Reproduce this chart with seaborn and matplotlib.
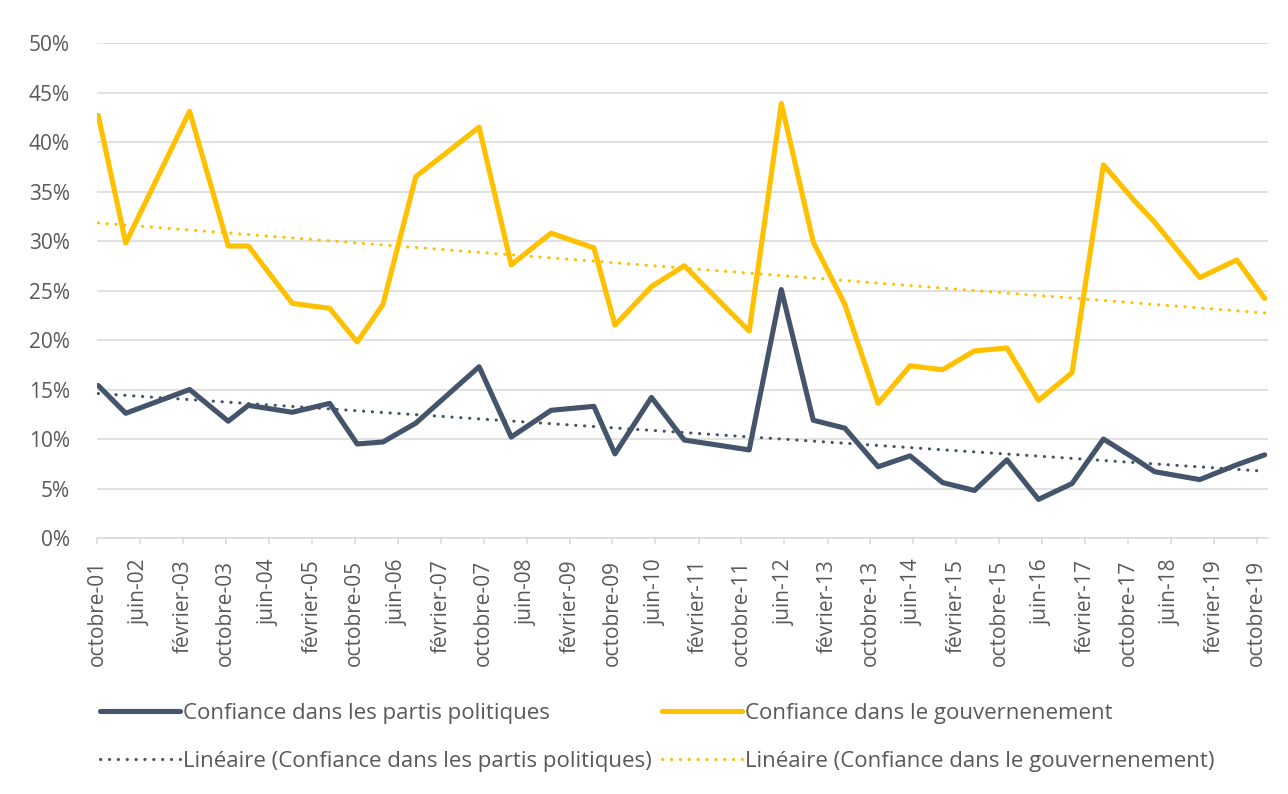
import pandas as pd
import numpy as np
import matplotlib
matplotlib.use('Agg')
import matplotlib.pyplot as plt
import matplotlib.dates as mdates
import seaborn as sns

## Données (en %)
dates = ['2001-10-08', '2002-03-13', '2003-03-10', '2003-10-15', '2004-02-06',
         '2004-10-12', '2005-05-12', '2005-10-15', '2006-03-10', '2006-09-12',
         '2007-09-06', '2008-03-06', '2008-10-18', '2009-06-18', '2009-10-15',
         '2010-05-10', '2010-11-12', '2011-11-15', '2012-05-15', '2012-11-12',
         '2013-05-10', '2013-11-15', '2014-05-15', '2014-11-15', '2015-05-15',
         '2015-11-15', '2016-05-12', '2016-11-18', '2017-05-15', '2017-11-10',
         '2018-03-01', '2018-11-12', '2019-06-10', '2019-11-15']
partis = [15.4, 12.6, 15.0, 11.8, 13.4, 12.7, 13.6, 9.5, 9.7, 11.6,
          17.3, 10.2, 12.9, 13.3, 8.5, 14.2, 9.9, 8.9, 25.1, 11.9,
          11.1, 7.2, 8.3, 5.6, 4.8, 7.9, 3.9, 5.5, 10.0, 8.0,
          6.7, 5.9, 7.4, 8.4]
gouv = [42.7, 29.8, 43.1, 29.5, 29.5, 23.7, 23.2, 19.8, 23.6, 36.5,
        41.5, 27.6, 30.8, 29.3, 21.5, 25.4, 27.5, 20.9, 43.9, 29.9,
        23.6, 13.6, 17.4, 17.0, 18.9, 19.2, 13.9, 16.7, 37.7, 34.0,
        31.9, 26.3, 28.1, 24.2]
lab_partis = 'Confiance dans les partis politiques'
lab_gouv = 'Confiance dans le gouvernenement'
mois_fr = ['janvier', 'février', 'mars', 'avril', 'mai', 'juin', 'juillet',
           'août', 'septembre', 'octobre', 'novembre', 'décembre']

sns.set_style('white')
plt.rcParams['font.family'] = ['Open Sans', 'DejaVu Sans']

df = pd.DataFrame({'date': pd.to_datetime(dates), 'partis': partis, 'gouv': gouv})

# tendances linéaires (comme la courbe de tendance Excel)
xnum = mdates.date2num(df['date'])
df['tend_partis'] = np.polyval(np.polyfit(xnum, df['partis'], 1), xnum)
df['tend_gouv'] = np.polyval(np.polyfit(xnum, df['gouv'], 1), xnum)

navy = '#44546A'; gold = '#FFC000'; grid = '#D9D9D9'; txt = '#595959'

fig = plt.figure(figsize=(12.88, 7.94), dpi=100)
ax = fig.add_axes([0.0753, 0.3224, 0.9092, 0.6234])

dot = (0, (0.1, 2.8))
sns.lineplot(data=df, x='date', y='partis', color=navy, lw=3.7, ax=ax, label=lab_partis)
sns.lineplot(data=df, x='date', y='gouv', color=gold, lw=3.7, ax=ax, label=lab_gouv)
sns.lineplot(data=df, x='date', y='tend_partis', color=navy, lw=2.2, linestyle=dot,
             dash_capstyle='round', ax=ax, label='Linéaire (' + lab_partis + ')')
sns.lineplot(data=df, x='date', y='tend_gouv', color=gold, lw=2.2, linestyle=dot,
             dash_capstyle='round', ax=ax, label='Linéaire (' + lab_gouv + ')')

# axes
ax.set_ylim(0, 50)
ax.set_yticks(range(0, 51, 5))
ax.set_yticklabels([f'{v}%' for v in range(0, 51, 5)])
ax.set_xlim(pd.Timestamp('2001-10-01'), pd.Timestamp('2019-12-04'))
tick_dates = pd.date_range('2001-10-01', '2019-10-01', freq='8MS')
ax.set_xticks(tick_dates)
ax.set_xticklabels([f'{mois_fr[d.month - 1]}-{d.year % 100:02d}' for d in tick_dates], rotation=90)
ax.set_xlabel(''); ax.set_ylabel('')

ax.grid(axis='y', color=grid, lw=1.1)
ax.grid(axis='x', visible=False)
for s in ['top', 'right', 'left']:
    ax.spines[s].set_visible(False)
ax.spines['bottom'].set_color(grid)
ax.spines['bottom'].set_linewidth(1.1)
ax.tick_params(axis='x', bottom=True, length=4.5, width=1.1, color=grid, pad=11,
               labelsize=15, labelcolor=txt)
ax.tick_params(axis='y', left=False, pad=16, labelsize=15, labelcolor=txt)

# légende en bas, 2 colonnes
ax.get_legend().remove()
h = ax.get_lines()
order = [0, 2, 1, 3]
fig.legend([h[i] for i in order], [h[i].get_label() for i in order],
           loc='upper left', bbox_to_anchor=(0.0776, 0.115), ncol=2, frameon=False,
           handlelength=3.6, handletextpad=0.12, columnspacing=0.5, labelspacing=1.22,
           borderpad=0, borderaxespad=0, fontsize=16, labelcolor=txt)

fig.savefig('out.png', dpi=100)
